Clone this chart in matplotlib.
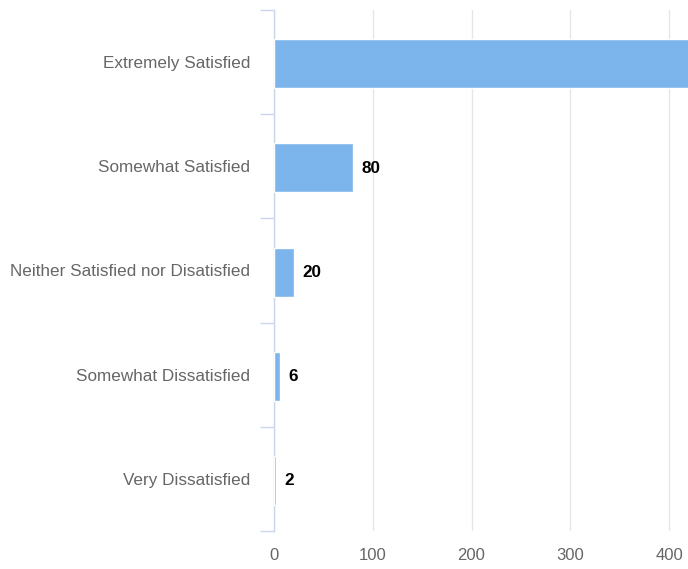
import matplotlib
matplotlib.use("Agg")
import matplotlib.pyplot as plt
from matplotlib.ticker import FixedLocator

plt.rcParams['font.family'] = ['Liberation Sans', 'DejaVu Sans']

# data (top to bottom)
categories = ["Extremely Satisfied", "Somewhat Satisfied",
              "Neither Satisfied nor Disatisfied", "Somewhat Dissatisfied",
              "Very Dissatisfied"]
counts = [450, 80, 20, 6, 2]
x_ticks = [0, 100, 200, 300, 400]

bar_color = "#7cb5ec"
axis_color = "#ccd6eb"
grid_color = "#e6e6e6"
label_color = "#666666"

fig = plt.figure(figsize=(6.88, 5.69), dpi=100)
ax = fig.add_axes([274 / 688, 1 - 531 / 569, 1 - 274 / 688, 521 / 569])

ypos = list(range(len(categories)))
ax.barh([y + 0.015 for y in ypos], counts, height=0.47, color=bar_color,
        edgecolor="white", linewidth=1, zorder=3)

ax.set_xlim(0, 419.2)
ax.set_ylim(len(categories) - 0.5, -0.5)

for y, v in zip(ypos, counts):
    ax.annotate(str(v), xy=(v, y), xytext=(6, -1.5), textcoords="offset points",
                ha="left", va="center", fontsize=12.3, fontweight="bold",
                color="black", zorder=4, annotation_clip=True)

ax.set_xticks(x_ticks)
ax.set_xticklabels([str(t) for t in x_ticks])
ax.set_yticks(ypos)
ax.set_yticklabels(categories)
ax.yaxis.set_minor_locator(FixedLocator([i - 0.5 for i in range(len(categories) + 1)]))

ax.tick_params(axis="x", which="major", length=0, pad=12, labelsize=12,
               labelcolor=label_color)
ax.tick_params(axis="y", which="major", length=0, pad=17, labelsize=12.3,
               labelcolor=label_color)
ax.tick_params(axis="y", which="minor", length=10, width=1, color=axis_color)

ax.grid(axis="x", color=grid_color, linewidth=1, zorder=0)
ax.set_axisbelow(True)

for side in ["top", "right", "bottom"]:
    ax.spines[side].set_visible(False)
ax.spines["left"].set_color(axis_color)
ax.spines["left"].set_linewidth(1)
ax.spines["left"].set_zorder(2)

fig.savefig("out.png", dpi=100)
